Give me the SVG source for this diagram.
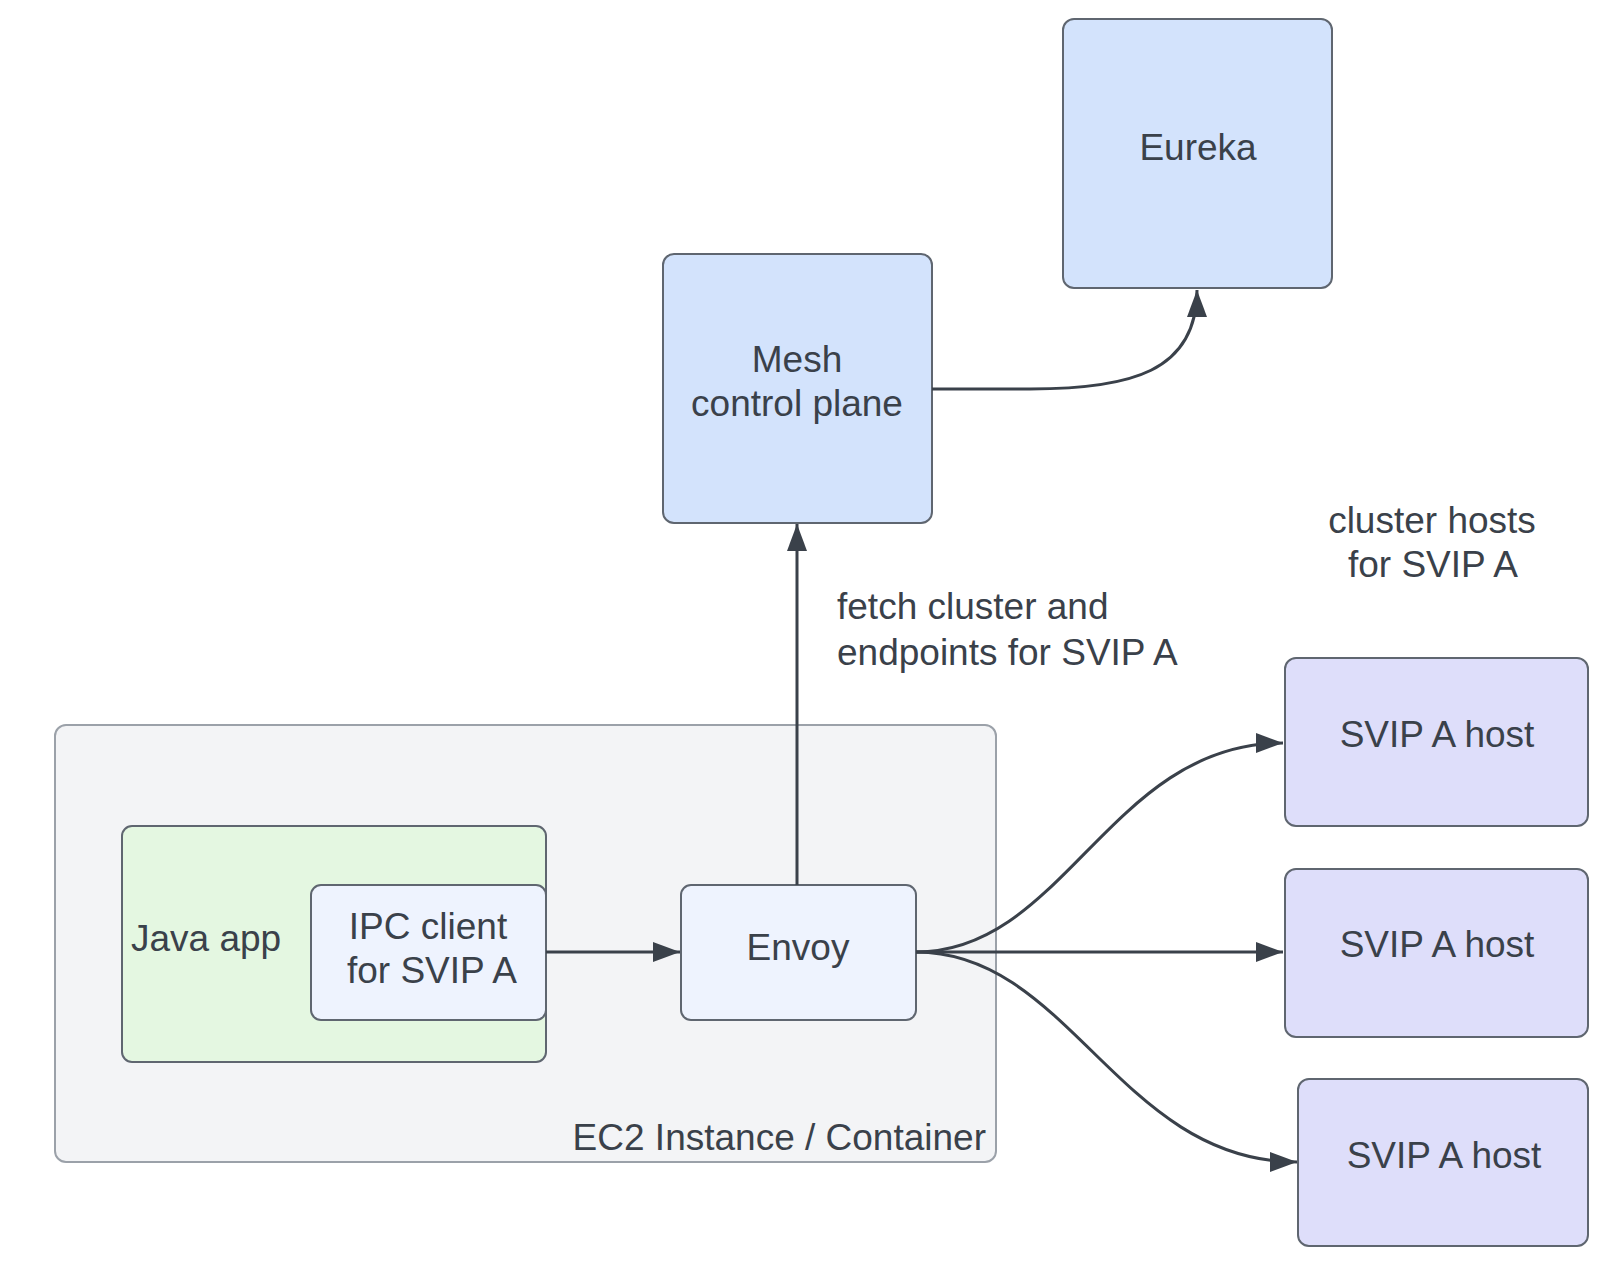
<svg xmlns="http://www.w3.org/2000/svg" width="1622" height="1266" viewBox="0 0 1622 1266">
<style>
text{font-family:"Liberation Sans",Arial,sans-serif;font-size:37px;fill:#3a414a}
.c{text-anchor:middle}
.box{stroke:#5f6670;stroke-width:2}
.blue{fill:#d3e3fc}
.lav{fill:#dedefa}
.light{fill:#eef3fe}
.green{fill:#e4f7e1}
.cont{fill:#f3f4f6;stroke:#9ba1a9;stroke-width:2}
.edge{fill:none;stroke:#3a414a;stroke-width:3}
</style>
<defs>
<marker id="arr" markerUnits="userSpaceOnUse" markerWidth="30" markerHeight="24" refX="27" refY="10" orient="auto" viewBox="0 0 30 24">
<path d="M0,0 L27,10 L0,20 Z" fill="#3a414a"/>
</marker>
</defs>
<rect width="1622" height="1266" fill="#ffffff"/>
<g id="container">
<rect class="cont" x="55" y="725" width="941" height="437" rx="11"/>
<text x="986" y="1150" text-anchor="end">EC2 Instance / Container</text>
</g>
<g id="eureka">
<rect class="box blue" x="1063" y="19" width="269" height="269" rx="11"/>
<text class="c" x="1198" y="160">Eureka</text>
</g>
<g id="mesh">
<rect class="box blue" x="663" y="254" width="269" height="269" rx="11"/>
<text class="c" x="797" y="372">Mesh</text>
<text class="c" x="797" y="416">control plane</text>
</g>
<g id="javaapp">
<rect class="box green" x="122" y="826" width="424" height="236" rx="10"/>
<text x="131" y="951">Java app</text>
</g>
<g id="ipc">
<rect class="box light" x="311" y="885" width="235" height="135" rx="10"/>
<text class="c" x="428" y="939">IPC client</text>
<text class="c" x="432" y="983">for SVIP A</text>
</g>
<g id="envoy">
<rect class="box light" x="681" y="885" width="235" height="135" rx="10"/>
<text class="c" x="798" y="960">Envoy</text>
</g>
<g id="host1">
<rect class="box lav" x="1285" y="658" width="303" height="168" rx="11"/>
<text class="c" x="1437" y="747">SVIP A host</text>
</g>
<g id="host2">
<rect class="box lav" x="1285" y="869" width="303" height="168" rx="11"/>
<text class="c" x="1437" y="957">SVIP A host</text>
</g>
<g id="host3">
<rect class="box lav" x="1298" y="1079" width="290" height="167" rx="11"/>
<text class="c" x="1444" y="1168">SVIP A host</text>
</g>
<g id="labels">
<text x="837" y="619">fetch cluster and</text>
<text x="837" y="665">endpoints for SVIP A</text>
<text class="c" x="1432" y="533">cluster hosts</text>
<text class="c" x="1433" y="577">for SVIP A</text>
</g>
<g id="connectors">
<path class="edge" d="M932,389 H1030 C1130,389 1197,372 1197,290" marker-end="url(#arr)"/>
<path class="edge" d="M797,885 V524" marker-end="url(#arr)"/>
<path class="edge" d="M546,952 H680" marker-end="url(#arr)"/>
<path class="edge" d="M916,952 C1065,952 1110,743 1283,743" marker-end="url(#arr)"/>
<path class="edge" d="M916,952 H1283" marker-end="url(#arr)"/>
<path class="edge" d="M916,952 C1070,952 1120,1162 1297,1162" marker-end="url(#arr)"/>
</g>
</svg>
